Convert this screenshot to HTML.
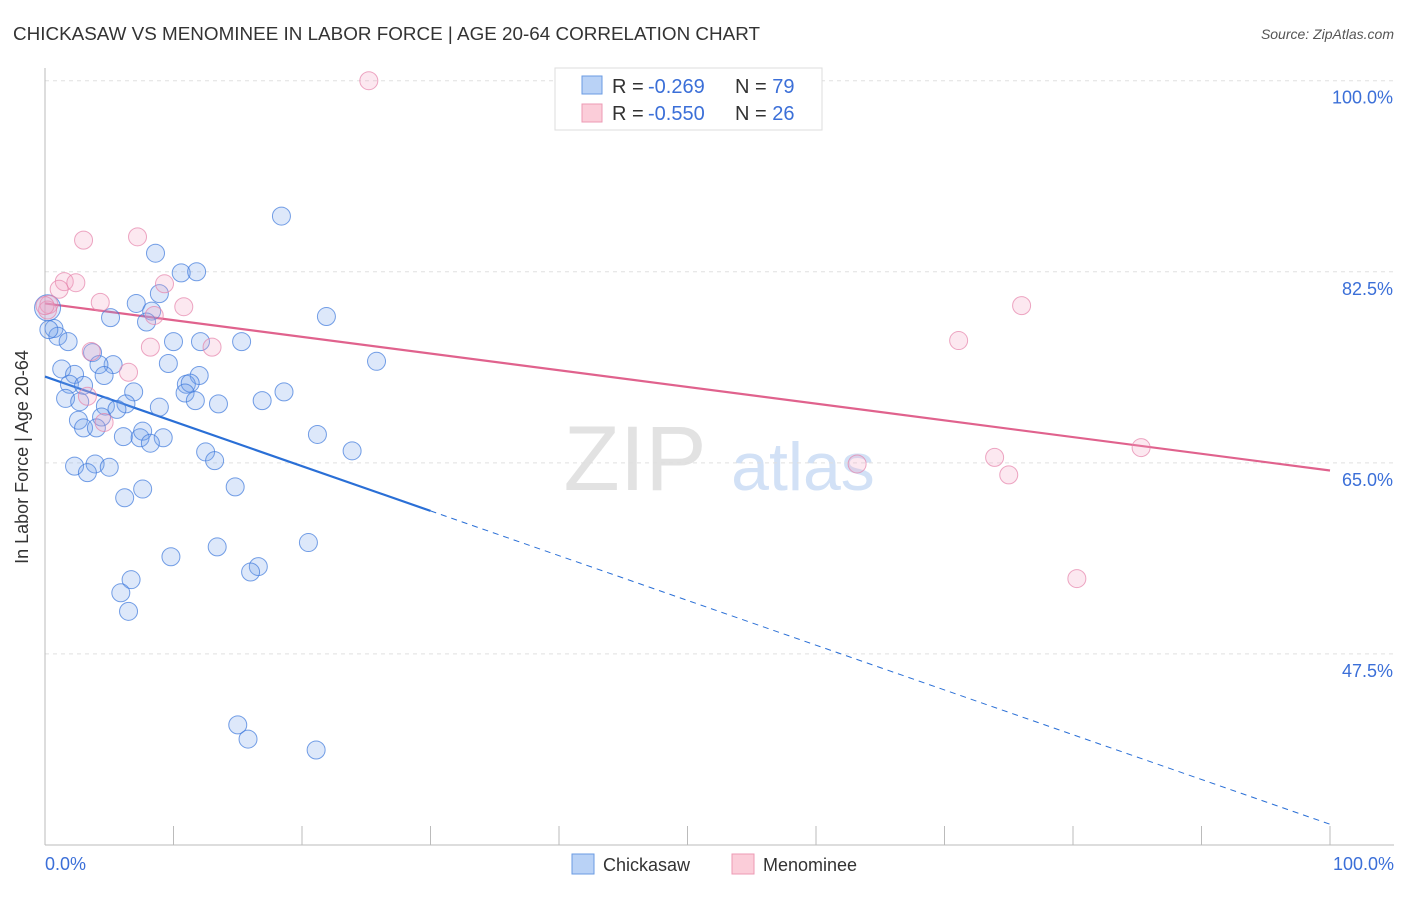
<!DOCTYPE html>
<html><head><meta charset="utf-8"><style>
body{margin:0;background:#fff;font-family:"Liberation Sans",sans-serif;}
svg text{font-family:"Liberation Sans",sans-serif;}
</style></head><body>
<svg width="1406" height="892" xmlns="http://www.w3.org/2000/svg">
<text x="13" y="40" font-size="18" fill="#333" textLength="747" lengthAdjust="spacingAndGlyphs">CHICKASAW VS MENOMINEE IN LABOR FORCE | AGE 20-64 CORRELATION CHART</text>
<text x="1394" y="39" font-size="14" font-style="italic" fill="#555" text-anchor="end">Source: ZipAtlas.com</text>
<g>
<text x="635" y="490" font-size="92" font-family="Liberation Serif" fill="#e2e2e2" text-anchor="middle">ZIP</text>
<text x="803" y="490" font-size="68" fill="#d2e1f6" text-anchor="middle">atlas</text>
</g>
<g id="grid"></g>
<g id="axes"></g>
<g id="trend"></g>
<g id="pts"></g>
<text x="28" y="457" font-size="18" fill="#333" text-anchor="middle" transform="rotate(-90 28 457)">In Labor Force | Age 20-64</text>
<g>
<rect x="555" y="68" width="267" height="62" fill="#fff" stroke="#ddd"/>
<rect x="582" y="76" width="20" height="18" fill="#b9d2f6" stroke="#6a9be3"/>
<rect x="582" y="104" width="20" height="18" fill="#fbcdd9" stroke="#ec9ab4"/>
<text x="612" y="93" font-size="20" fill="#333">R = <tspan x="648" fill="#3b6fd8">-0.269</tspan><tspan x="735">N = </tspan><tspan fill="#3b6fd8">79</tspan></text>
<text x="612" y="120" font-size="20" fill="#333">R = <tspan x="648" fill="#3b6fd8">-0.550</tspan><tspan x="735">N = </tspan><tspan fill="#3b6fd8">26</tspan></text>
</g>
<g>
<rect x="572" y="854" width="22" height="20" fill="#b9d2f6" stroke="#6a9be3"/>
<text x="603" y="871" font-size="18" fill="#333">Chickasaw</text>
<rect x="732" y="854" width="22" height="20" fill="#fbcdd9" stroke="#ec9ab4"/>
<text x="763" y="871" font-size="18" fill="#333">Menominee</text>
</g>
<text x="45" y="870" font-size="18" fill="#3b6fd8">0.0%</text>
<text x="1394" y="870" font-size="18" fill="#3b6fd8" text-anchor="end">100.0%</text>
</svg>
<script>
const NS="http://www.w3.org/2000/svg";
const yTicks=[47.5,65.0,82.5,100.0];
const yTickLabels=["47.5%","65.0%","82.5%","100.0%"];
const xTicks=[0,10,20,30,40,50,60,70,80,90,100];
const blueX=[18.4,8.6,10.6,11.8,7.1,8.9,8.3,5.1,7.9,21.9,0.7,1.0,1.8,0.3,10.0,12.1,15.3,3.7,5.3,4.2,9.6,25.8,1.3,2.3,4.6,12.0,1.9,3.0,11.0,11.3,6.9,10.9,11.7,13.5,16.9,18.6,1.6,2.7,4.7,6.3,5.6,8.9,4.4,2.6,3.0,4.0,6.1,7.4,9.2,7.6,8.2,21.2,23.9,12.5,13.2,2.3,3.9,5.0,3.3,14.8,7.6,6.2,20.5,13.4,9.8,16.6,16.0,6.7,5.9,6.5,15.0,15.8,21.1,0.2];
const blueY=[87.6,84.2,82.4,82.5,79.6,80.5,78.9,78.3,77.9,78.4,77.3,76.6,76.1,77.2,76.1,76.1,76.1,75.1,74.0,74.0,74.1,74.3,73.6,73.1,73.0,73.0,72.2,72.1,72.2,72.3,71.5,71.4,70.7,70.4,70.7,71.5,70.9,70.6,70.2,70.4,69.9,70.1,69.2,68.9,68.2,68.2,67.4,67.3,67.3,67.9,66.8,67.6,66.1,66.0,65.2,64.7,64.9,64.6,64.1,62.8,62.6,61.8,57.7,57.3,56.4,55.5,55.0,54.3,53.1,51.4,41.0,39.7,38.7,79.2];
const pinkX=[25.2,3.0,7.2,1.5,2.4,1.1,9.3,4.3,10.8,8.5,0.3,0.2,8.2,13.0,3.6,6.5,3.3,4.6,76.0,71.1,85.3,63.2,73.9,75.0,80.3,0.0];
const pinkY=[100.0,85.4,85.7,81.6,81.5,80.9,81.4,79.7,79.3,78.5,79.5,79.0,75.6,75.6,75.2,73.3,71.1,68.7,79.4,76.2,66.4,64.9,65.5,63.9,54.4,79.4];
const blueTrend=[72.9,31.9];
const pinkTrend=[79.6,64.3];
const blueSolidEnd=30;

const X0=45,X1=1330,YTOP=100,YBOT=30.0,PY0=80.7,PY1=845;
const sx=v=>X0+(v/100)*(X1-X0);
const sy=v=>PY0+(YTOP-v)/(YTOP-YBOT)*(PY1-PY0);
function mk(tag,attrs,parent){const e=document.createElementNS(NS,tag);for(const k in attrs)e.setAttribute(k,attrs[k]);parent.appendChild(e);return e;}
const grid=document.getElementById('grid'),axes=document.getElementById('axes'),trend=document.getElementById('trend'),pts=document.getElementById('pts');
yTicks.forEach((t,i)=>{
 const l=mk('line',{x1:X0,x2:1394,y1:sy(t),y2:sy(t),stroke:'#e0e0e0','stroke-dasharray':'4,4'},grid);
 
 
 const tx=mk('text',{x:1393,y:sy(t)+23,'font-size':18,fill:'#3b6fd8','text-anchor':'end'},grid);
 tx.textContent=yTickLabels[i];
 
 
});
mk('line',{x1:X0,x2:X0,y1:68,y2:PY1,stroke:'#bbb'},axes);
mk('line',{x1:X0,x2:1394,y1:PY1,y2:PY1,stroke:'#bbb'},axes);
xTicks.forEach(t=>{
 const l=mk('line',{x1:sx(t),x2:sx(t),y1:826,y2:PY1,stroke:'#bbb'},axes);
 
 
});
function pt(x,y,r,fill,stroke,name){
 const c=mk('circle',{cx:sx(x),cy:sy(y),r:r,fill:fill,stroke:stroke,'stroke-width':1},pts);
 
 
}
blueX.forEach((x,i)=>pt(x,blueY[i],i===blueX.length-1?13:9,'rgba(120,165,235,0.25)','rgba(60,120,220,0.7)','chickasaw-point'));
pinkX.forEach((x,i)=>pt(x,pinkY[i],9,'rgba(245,165,195,0.25)','rgba(230,130,170,0.7)','menominee-point'));
const by=x=>blueTrend[0]+(blueTrend[1]-blueTrend[0])*x/100;
const py=x=>pinkTrend[0]+(pinkTrend[1]-pinkTrend[0])*x/100;
let l=mk('line',{x1:sx(0),y1:sy(by(0)),x2:sx(blueSolidEnd),y2:sy(by(blueSolidEnd)),stroke:'#2a6fd6','stroke-width':2.2},trend);


l=mk('line',{x1:sx(blueSolidEnd),y1:sy(by(blueSolidEnd)),x2:sx(100),y2:sy(by(100)),stroke:'#2a6fd6','stroke-width':1,'stroke-dasharray':'6,5'},trend);


l=mk('line',{x1:sx(0),y1:sy(py(0)),x2:sx(100),y2:sy(py(100)),stroke:'#e0628d','stroke-width':2.2},trend);


</script>
</body></html>
